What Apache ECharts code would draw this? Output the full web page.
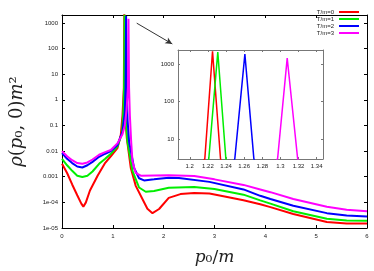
<!DOCTYPE html>
<html><head><meta charset="utf-8">
<script src="https://cdn.jsdelivr.net/npm/echarts@6/dist/echarts.min.js"></script>
<style>html,body{margin:0;padding:0;background:#fff}#c{width:374px;height:271px}</style>
</head><body><div id="c"></div>
<script>
// ---- data ([p0/m, rho*m^2]) ----
const seriesNames = ['T/m=0', 'T/m=1', 'T/m=2', 'T/m=3'];
const rhoT0 = [[0,3.2e-3],[0.1,1.4e-3],[0.2,5.0e-4],[0.3,1.9e-4],[0.38,8.9e-5],[0.42,6.8e-5],[0.47,1.0e-4],[0.55,2.9e-4],[0.7,1.1e-3],[0.85,3.5e-3],[0.96,6.3e-3],[1.09,1.3e-2],[1.157,4.3e-2],[1.19,0.25],[1.2166,3.0],[1.2251,2200],[1.2339,3.0],[1.25,0.16],[1.275,0.032],[1.353,2.2e-3],[1.451,4.4e-4],[1.582,1.35e-4],[1.68,5.6e-5],[1.78,3.8e-5],[1.91,5.5e-5],[2.1,1.5e-4],[2.33,2.1e-4],[2.6,2.3e-4],[2.9,2.2e-4],[3.2,1.7e-4],[3.57,1.2e-4],[3.9,8.5e-5],[4.1,6.5e-5],[4.55,3.5e-5],[5.21,1.7e-5],[5.6,1.5e-5],[6,1.5e-5]];
const rhoT1 = [[0,5.0e-3],[0.1,2.8e-3],[0.2,1.7e-3],[0.3,1.1e-3],[0.4,9.8e-4],[0.5,1.1e-3],[0.6,1.6e-3],[0.73,3.2e-3],[0.85,5.0e-3],[0.96,7.9e-3],[1.09,1.5e-2],[1.18,4.9e-2],[1.205,0.32],[1.221,3.0],[1.2309,2100],[1.2398,3.0],[1.255,0.16],[1.288,0.023],[1.386,1.7e-3],[1.516,3.8e-4],[1.647,2.6e-4],[1.81,2.8e-4],[2.1,3.7e-4],[2.6,4.0e-4],[3.0,3.3e-4],[3.57,2.0e-4],[3.9,1.2e-4],[4.1,8.9e-5],[4.55,4.5e-5],[5.21,2.3e-5],[5.6,1.95e-5],[6,1.9e-5]];
const rhoT2 = [[0,8.3e-3],[0.1,5.0e-3],[0.2,3.4e-3],[0.3,2.5e-3],[0.4,2.3e-3],[0.5,2.8e-3],[0.6,3.8e-3],[0.73,6.0e-3],[0.85,7.9e-3],[0.96,1.0e-2],[1.09,1.7e-2],[1.19,5.8e-2],[1.235,0.32],[1.2497,3.0],[1.2608,1860],[1.2707,3.0],[1.29,0.16],[1.32,0.023],[1.418,2.2e-3],[1.516,8.7e-4],[1.614,7.2e-4],[1.81,7.9e-4],[2.1,9.1e-4],[2.3,8.9e-4],[2.9,6.3e-4],[3.57,3.2e-4],[3.9,1.8e-4],[4.1,1.35e-4],[4.55,7.4e-5],[5.21,3.8e-5],[5.6,3.1e-5],[6,2.8e-5]];
const rhoT3 = [[0,1.0e-2],[0.1,6.3e-3],[0.2,4.4e-3],[0.3,3.4e-3],[0.4,3.2e-3],[0.5,3.6e-3],[0.6,4.7e-3],[0.73,7.2e-3],[0.85,9.1e-3],[0.96,1.1e-2],[1.09,2.0e-2],[1.19,4.5e-2],[1.235,0.1],[1.27,0.4],[1.2969,3.0],[1.3075,1450],[1.319,3.0],[1.335,0.25],[1.36,0.025],[1.386,4.0e-3],[1.45,1.4e-3],[1.55,1.1e-3],[2.1,1.15e-3],[2.6,1.07e-3],[3.0,7.9e-4],[3.57,4.8e-4],[3.9,3.2e-4],[4.1,2.5e-4],[4.55,1.35e-4],[5.21,6.8e-5],[5.6,5.2e-5],[6,4.5e-5]];
const yTickValues = [1e-5,1e-4,1e-3,1e-2,1e-1,1,10,100,1000];
const yTickLabels = ['1e-05','1e-04','0.001','0.01','0.1','1','10','100','1000'];
const insetXTicks = [1.2,1.22,1.24,1.26,1.28,1.3,1.32,1.34];
const insetYTicks = [10,100,1000];
const arrowFrom = [1.47, 980];
const arrowTo = [2.17, 151];

const colors = ['#ff0000','#00ee00','#0000ff','#ff00ff'];
const allData = [rhoT0, rhoT1, rhoT2, rhoT3];
const FONT = 'Liberation Sans';
const lab = {fontSize: 6, color: '#222', fontFamily: FONT};
const titleRich = {
  i: {fontSize: 18, fontFamily: 'DejaVu Serif', fontStyle: 'italic', color: '#222'},
  u: {fontSize: 18, fontFamily: 'DejaVu Serif', color: '#222'}
};

function xAx(grid, min, max, opts) {
  return Object.assign({
    gridIndex: grid, type: 'value', min: min, max: max,
    axisLine: {show: true, onZero: false, lineStyle: {color: '#000', width: 1}},
    axisTick: {show: true, inside: true, length: 3, lineStyle: {color: '#000'}},
    splitLine: {show: false}
  }, opts);
}

const option = {
  animation: false,
  backgroundColor: '#fff',
  grid: [
    {left: 61, top: 15, right: 7, bottom: 40, show: false},
    {left: 178, top: 50, right: 51, bottom: 112, show: true, backgroundColor: '#fff', borderWidth: 0}
  ],
  legend: {
    data: seriesNames, orient: 'vertical', right: 15, top: 9, align: 'right', padding: 0,
    itemWidth: 20, itemHeight: 2, itemGap: 1, icon: 'rect',
    textStyle: {fontSize: 6, color: '#222', fontFamily: FONT, padding: [0,0,0,0], lineHeight: 6}
  },
  xAxis: [
    xAx(0, 0, 6, {interval: 1, axisLabel: Object.assign({margin: 5}, lab),
      name: '{i|p}{u|\u2080/}{i|m}', nameLocation: 'middle', nameGap: 21,
      nameTextStyle: {rich: {i: Object.assign({}, titleRich.i, {fontSize: 17}), u: Object.assign({}, titleRich.u, {fontSize: 17})}}}),
    xAx(0, 0, 6, {interval: 1, position: 'top', axisLabel: {show: false}}),
    xAx(1, 1.187, 1.347, {axisLine: {show: true, onZero: false, lineStyle: {color: '#777', width: 1}},
      axisTick: {show: true, inside: true, length: 2, customValues: insetXTicks, lineStyle: {color: '#777'}},
      axisLabel: Object.assign({margin: 4, customValues: insetXTicks, formatter: v => String(+v.toFixed(2))}, lab)}),
    xAx(1, 1.187, 1.347, {position: 'top', axisLine: {show: true, onZero: false, lineStyle: {color: '#777', width: 1}},
      axisTick: {show: true, inside: true, length: 2, customValues: insetXTicks, lineStyle: {color: '#777'}},
      axisLabel: {show: false}})
  ],
  yAxis: [
    {gridIndex: 0, type: 'log', min: 1e-5, max: 2040,
      axisLine: {show: true, onZero: false, lineStyle: {color: '#000'}},
      axisTick: {show: true, inside: true, length: 3, customValues: yTickValues, lineStyle: {color: '#000'}},
      axisLabel: Object.assign({margin: 4, customValues: yTickValues,
        formatter: v => { const i = yTickValues.findIndex(t => Math.abs(Math.log10(t) - Math.log10(v)) < 1e-6); return i >= 0 ? yTickLabels[i] : ''; }}, lab),
      splitLine: {show: false},
      name: '{i|\u03c1}{u|(}{i|p}{u|\u2080, 0)}{i|m}{u|\u00b2}', nameLocation: 'middle', nameGap: 36, nameRotate: 90,
      nameTextStyle: {rich: titleRich}},
    {gridIndex: 0, type: 'log', min: 1e-5, max: 2040, position: 'right',
      axisLine: {show: true, onZero: false, lineStyle: {color: '#000'}},
      axisTick: {show: true, inside: true, length: 3, customValues: yTickValues, lineStyle: {color: '#000'}},
      axisLabel: {show: false}, splitLine: {show: false}},
    {gridIndex: 1, type: 'log', min: 2.93, max: 2400,
      axisLine: {show: true, onZero: false, lineStyle: {color: '#777'}},
      axisTick: {show: true, inside: true, length: 2, customValues: insetYTicks, lineStyle: {color: '#777'}},
      axisLabel: Object.assign({margin: 4, customValues: insetYTicks, formatter: v => String(Math.round(v))}, lab),
      splitLine: {show: false}},
    {gridIndex: 1, type: 'log', min: 2.93, max: 2400, position: 'right',
      axisLine: {show: true, onZero: false, lineStyle: {color: '#777'}},
      axisTick: {show: true, inside: true, length: 2, customValues: insetYTicks, lineStyle: {color: '#777'}},
      axisLabel: {show: false}, splitLine: {show: false}}
  ],
  series: []
};

allData.forEach((d, i) => {
  const s = {
    name: seriesNames[i], type: 'line', xAxisIndex: 0, yAxisIndex: 0, data: d,
    showSymbol: false, symbol: 'none', clip: true,
    lineStyle: {color: colors[i], width: 2}, itemStyle: {color: colors[i]}, z: 3 + i
  };
  if (i === 0) {
    s.markLine = {silent: true, symbol: ['none', 'arrow'], symbolSize: [5, 7],
      label: {show: false}, lineStyle: {color: '#333', width: 1, type: 'solid'},
      data: [[{coord: arrowFrom}, {coord: arrowTo}]]};
  }
  option.series.push(s);
});
allData.forEach((d, i) => {
  option.series.push({
    name: seriesNames[i], type: 'line', xAxisIndex: 2, yAxisIndex: 2, data: d,
    showSymbol: false, symbol: 'none', clip: true,
    lineStyle: {color: colors[i], width: 1.5}, itemStyle: {color: colors[i]}, z: 10
  });
});

const chart = echarts.init(document.getElementById('c'), null, {renderer: 'canvas'});
chart.setOption(option);
</script></body></html>
